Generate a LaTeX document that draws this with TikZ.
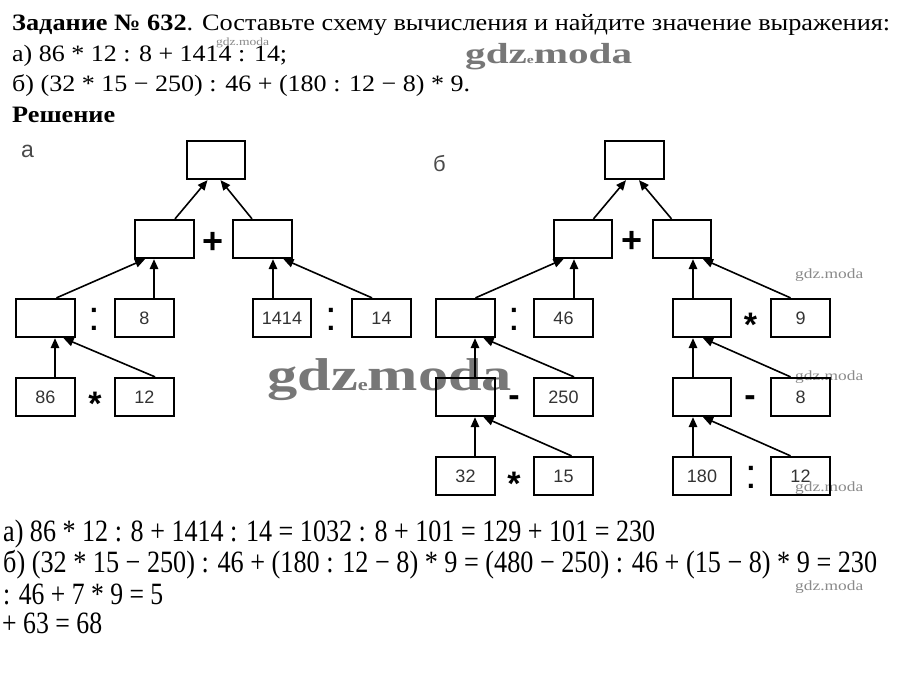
\documentclass[tikz,border=0pt]{standalone}
\usepackage{fontspec}
\usepackage{graphicx}
\setmainfont{Liberation Serif}
\newfontfamily\arialf{Liberation Sans}
\usetikzlibrary{arrows.meta}
\definecolor{boxtext}{HTML}{333333}
\definecolor{lbl}{HTML}{4A4A4A}
\definecolor{wm}{HTML}{8A8A8A}
\definecolor{wmdark}{HTML}{777777}
\begin{document}
\begin{tikzpicture}[x=1pt,y=-1pt,
  bx/.style={draw=black,line width=1.8pt,minimum width=58.5pt,minimum height=38.5pt,inner sep=0pt,font=\arialf\fontsize{18}{18}\selectfont,text=boxtext},
  arr/.style={line width=1.6pt,-{Triangle[length=10pt,width=8.5pt]}},
  txt/.style={anchor=base west,inner sep=0pt},
  plusop/.style={anchor=north,inner sep=0pt,font=\arialf\bfseries\fontsize{36}{36}\selectfont},
  starop/.style={anchor=north,inner sep=0pt,font=\arialf\bfseries\fontsize{34}{34}\selectfont},
  colonop/.style={anchor=center,inner sep=0pt,font=\arialf\fontsize{42}{42}\selectfont},
  minusop/.style={anchor=north,inner sep=0pt,font=\arialf\bfseries\fontsize{34}{34}\selectfont},
  wmbig/.style={anchor=base west,inner sep=0pt,text=wmdark},
  wmsmall/.style={anchor=base west,inner sep=0pt,text=wm},
]
\useasboundingbox[fill=white] (0,0) rectangle (900,681);

% header text
\node[txt] (h1) at (12,30) {\resizebox{878pt}{\height}{\fontsize{23.5}{23.5}\selectfont\textbf{Задание № 632}. Составьте схему вычисления и найдите значение выражения:}};
\node[txt] (h2) at (12,61) {\resizebox{275pt}{\height}{\fontsize{23.5}{23.5}\selectfont а) 86 * 12 : 8 + 1414 : 14;}};
\node[txt] (h3) at (12,91) {\resizebox{458pt}{\height}{\fontsize{23.5}{23.5}\selectfont б) (32 * 15 − 250) : 46 + (180 : 12 − 8) * 9.}};
\node[txt] (h4) at (12,122) {\resizebox{103pt}{\height}{\fontsize{23.5}{23.5}\selectfont\textbf{Решение}}};

% watermarks (behind)
\node[wmbig] (wm1) at (465,63) {\resizebox{167pt}{\height}{\fontsize{29}{29}\selectfont\bfseries gdz{\fontsize{11}{11}\selectfont e}moda}};
\node[wmbig] (wm2) at (267,390) {\resizebox{245pt}{\height}{\fontsize{46}{46}\selectfont\bfseries gdz{\fontsize{17}{17}\selectfont e}moda}};
\node[wmsmall] (wm3) at (216,45) {\resizebox{53pt}{\height}{\fontsize{11}{11}\selectfont gdz.moda}};
\node[wmsmall] (wm4) at (795,278) {\resizebox{68pt}{\height}{\fontsize{14}{14}\selectfont gdz.moda}};
\node[wmsmall] (wm5) at (795,380) {\resizebox{68pt}{\height}{\fontsize{14}{14}\selectfont gdz.moda}};
\node[wmsmall] (wm6) at (795,491) {\resizebox{68pt}{\height}{\fontsize{14}{14}\selectfont gdz.moda}};
\node[wmsmall] (wm7) at (795,590) {\resizebox{68pt}{\height}{\fontsize{14}{14}\selectfont gdz.moda}};

% labels
\node[txt,text=lbl,font=\arialf\fontsize{23}{23}\selectfont] (la) at (21,157) {а};
\node[txt,text=lbl,font=\arialf\fontsize{22}{22}\selectfont] (lb) at (433,171) {б};

% ---- diagram a ----
\node[bx] (aT) at (216,160) {};
\node[bx] (aL) at (164.5,239) {};
\node[bx] (aR) at (262.5,239) {};
\node[bx] (aA) at (45.5,318) {};
\node[bx] (aB) at (144.5,318) {8};
\node[bx] (aC) at (282,318) {1414};
\node[bx] (aD) at (381.5,318) {14};
\node[bx] (aE) at (45.5,397) {86};
\node[bx] (aF) at (144.5,397) {12};
\node[plusop] (ap) at (213.5,232) {+};
\node[colonop] (ac1) at (94.5,319) {:};
\node[colonop] (ac2) at (331.5,319) {:};
\node[starop] (as) at (95,392) {*};

\draw[arr] ([xshift=10.5pt]aL.north) -- ([xshift=-8.5pt]aT.south);
\draw[arr] ([xshift=-10.5pt]aR.north) -- ([xshift=4.5pt]aT.south);
\draw[arr] ([xshift=11pt]aA.north) -- ([xshift=-19.5pt]aL.south);
\draw[arr] ([xshift=9.5pt]aB.north) -- ([xshift=-10.5pt]aL.south);
\draw[arr] ([xshift=-9pt]aC.north) -- ([xshift=10.5pt]aR.south);
\draw[arr] ([xshift=-9.5pt]aD.north) -- ([xshift=21pt]aR.south);
\draw[arr] ([xshift=9.5pt]aE.north) -- ([xshift=9.5pt]aA.south);
\draw[arr] ([xshift=10.5pt]aF.north) -- ([xshift=18pt]aA.south);

% ---- diagram b ----
\node[bx] (bT) at (634.5,160) {};
\node[bx] (bL) at (583,239) {};
\node[bx] (bR) at (682,239) {};
\node[bx] (b3L) at (465.5,318) {};
\node[bx] (b46) at (563.5,318) {46};
\node[bx] (b3R) at (702,318) {};
\node[bx] (b9) at (800.5,318) {9};
\node[bx] (b4L) at (465.5,397) {};
\node[bx] (b250) at (563.5,397) {250};
\node[bx] (b4R) at (702,397) {};
\node[bx] (b8) at (800.5,397) {8};
\node[bx] (b32) at (465.5,476) {32};
\node[bx] (b15) at (563.5,476) {15};
\node[bx] (b180) at (702,476) {180};
\node[bx] (b12) at (800.5,476) {12};
\node[plusop] (bp) at (632.5,231) {+};
\node[colonop] (bc1) at (514,319) {:};
\node[starop] (bs1) at (750.5,313) {*};
\node[minusop] (bm1) at (514,395) {-};
\node[minusop] (bm2) at (750,395) {-};
\node[starop] (bs2) at (514,472) {*};
\node[colonop] (bc2) at (751,477) {:};

\draw[arr] ([xshift=10.5pt]bL.north) -- ([xshift=-8.5pt]bT.south);
\draw[arr] ([xshift=-10.5pt]bR.north) -- ([xshift=4.5pt]bT.south);
\draw[arr] ([xshift=10pt]b3L.north) -- ([xshift=-19.5pt]bL.south);
\draw[arr] ([xshift=10.5pt]b46.north) -- ([xshift=-9pt]bL.south);
\draw[arr] ([xshift=-9pt]b3R.north) -- ([xshift=11pt]bR.south);
\draw[arr] ([xshift=-10pt]b9.north) -- ([xshift=21pt]bR.south);
\draw[arr] ([xshift=9.5pt]b4L.north) -- ([xshift=9.5pt]b3L.south);
\draw[arr] ([xshift=10.5pt]b250.north) -- ([xshift=18pt]b3L.south);
\draw[arr] ([xshift=-9pt]b4R.north) -- ([xshift=-9pt]b3R.south);
\draw[arr] ([xshift=-10pt]b8.north) -- ([xshift=1pt]b3R.south);
\draw[arr] ([xshift=9.5pt]b32.north) -- ([xshift=9.5pt]b4L.south);
\draw[arr] ([xshift=8pt]b15.north) -- ([xshift=18pt]b4L.south);
\draw[arr] ([xshift=-9pt]b180.north) -- ([xshift=-9pt]b4R.south);
\draw[arr] ([xshift=-10pt]b12.north) -- ([xshift=1pt]b4R.south);

% bottom solution text
\node[txt] (s1) at (3,541) {\resizebox{652pt}{\height}{\fontsize{31}{31}\selectfont а) 86 * 12 : 8 + 1414 : 14 = 1032 : 8 + 101 = 129 + 101 = 230}};
\node[txt] (s2) at (3,572) {\resizebox{874pt}{\height}{\fontsize{31}{31}\selectfont б) (32 * 15 − 250) : 46 + (180 : 12 − 8) * 9 = (480 − 250) : 46 + (15 − 8) * 9 = 230}};
\node[txt] (s3) at (3,604) {\resizebox{160pt}{\height}{\fontsize{31}{31}\selectfont : 46 + 7 * 9 = 5}};
\node[txt] (s4) at (2,633) {\resizebox{100pt}{\height}{\fontsize{31}{31}\selectfont + 63 = 68}};
\end{tikzpicture}
\end{document}
